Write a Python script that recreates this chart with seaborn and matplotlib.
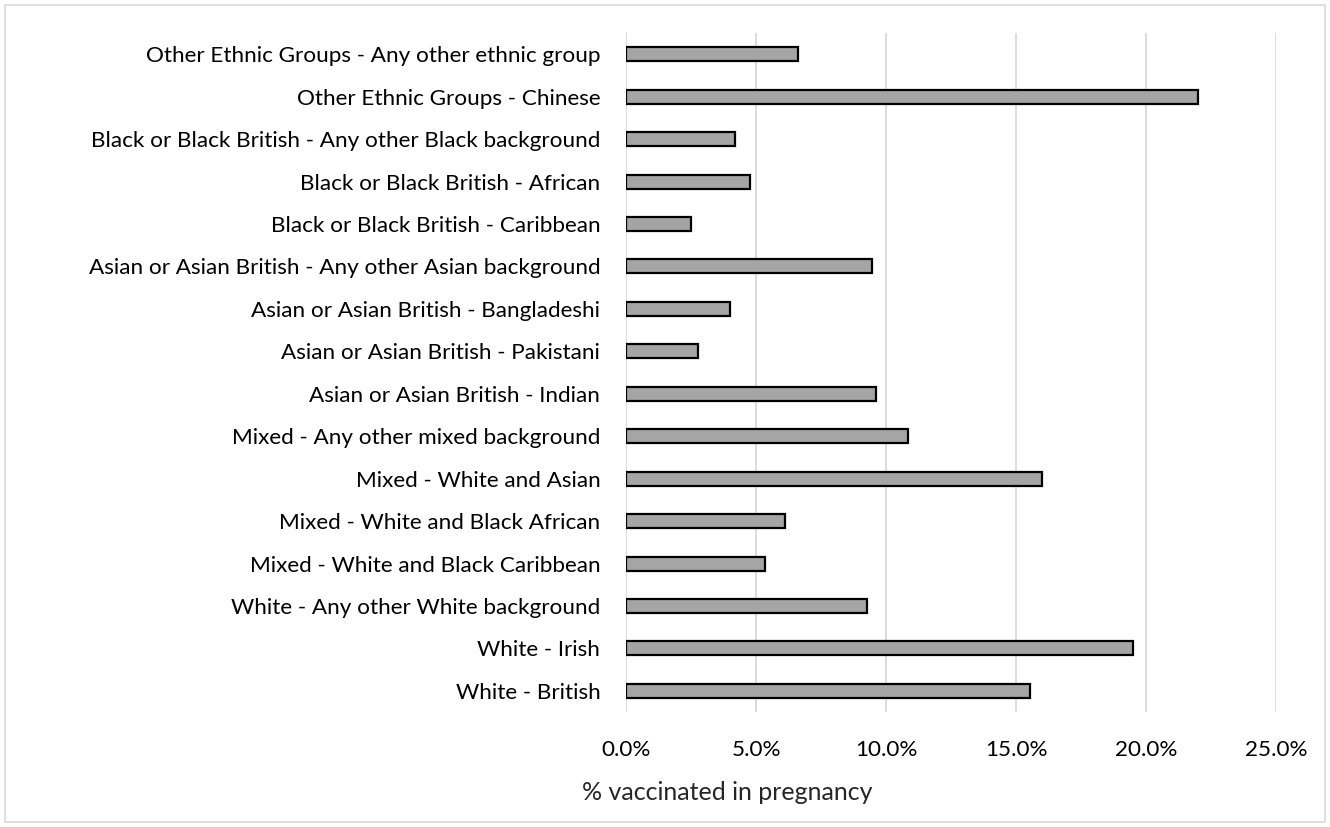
import numpy as np
import pandas as pd
import matplotlib
matplotlib.use('Agg')
import matplotlib.pyplot as plt
import seaborn as sns
from matplotlib.ticker import FuncFormatter
from matplotlib.patches import Rectangle

# categories listed top to bottom as they appear in the chart
groups = [
    'Other Ethnic Groups - Any other ethnic group',
    'Other Ethnic Groups - Chinese',
    'Black or Black British - Any other Black background',
    'Black or Black British - African',
    'Black or Black British - Caribbean',
    'Asian or Asian British - Any other Asian background',
    'Asian or Asian British - Bangladeshi',
    'Asian or Asian British - Pakistani',
    'Asian or Asian British - Indian',
    'Mixed - Any other mixed background',
    'Mixed - White and Asian',
    'Mixed - White and Black African',
    'Mixed - White and Black Caribbean',
    'White - Any other White background',
    'White - Irish',
    'White - British',
]
pct_vaccinated = [6.6, 22.0, 4.2, 4.75, 2.5, 9.45, 4.0, 2.75, 9.6, 10.85,
                  16.0, 6.1, 5.35, 9.25, 19.5, 15.55]
x_ticks = [0, 5, 10, 15, 20, 25]

df = pd.DataFrame({'group': groups, 'pct': pct_vaccinated})

sns.set_style('white')
plt.rcParams['font.family'] = ['Lato', 'DejaVu Sans']

fig = plt.figure(figsize=(13.3, 8.27), dpi=100)
ax = fig.add_axes([0.4707, 0.139, 0.4887, 0.821])

sns.barplot(data=df, x='pct', y='group', order=groups, orient='h',
            color='#A5A5A5', saturation=1, width=0.33,
            edgecolor='black', linewidth=1.6, ax=ax)

ax.set_xlim(0, 25)
ax.set_xticks(x_ticks)
ax.xaxis.set_major_formatter(FuncFormatter(lambda v, p: f'{v:.1f}%'))
ax.grid(axis='x', color='#D9D9D9', linewidth=1.3)
ax.set_axisbelow(True)
for s in ax.spines.values():
    s.set_visible(False)
ax.tick_params(axis='both', length=0, labelsize=16.2, colors='#000000')
ax.tick_params(axis='x', pad=20)
ax.tick_params(axis='y', pad=18.5)
ax.set_xlabel('')
ax.set_ylabel('')

fig.text(727 / 1330, 1 - 792 / 827, '% vaccinated in pregnancy',
         ha='center', va='center', fontsize=18)

# light chart-area border
fig.patches.append(Rectangle((0.004, 0.006), 0.992, 0.988, transform=fig.transFigure,
                             fill=False, edgecolor='#D9D9D9', linewidth=1.2))

fig.savefig('out.png', dpi=100)
